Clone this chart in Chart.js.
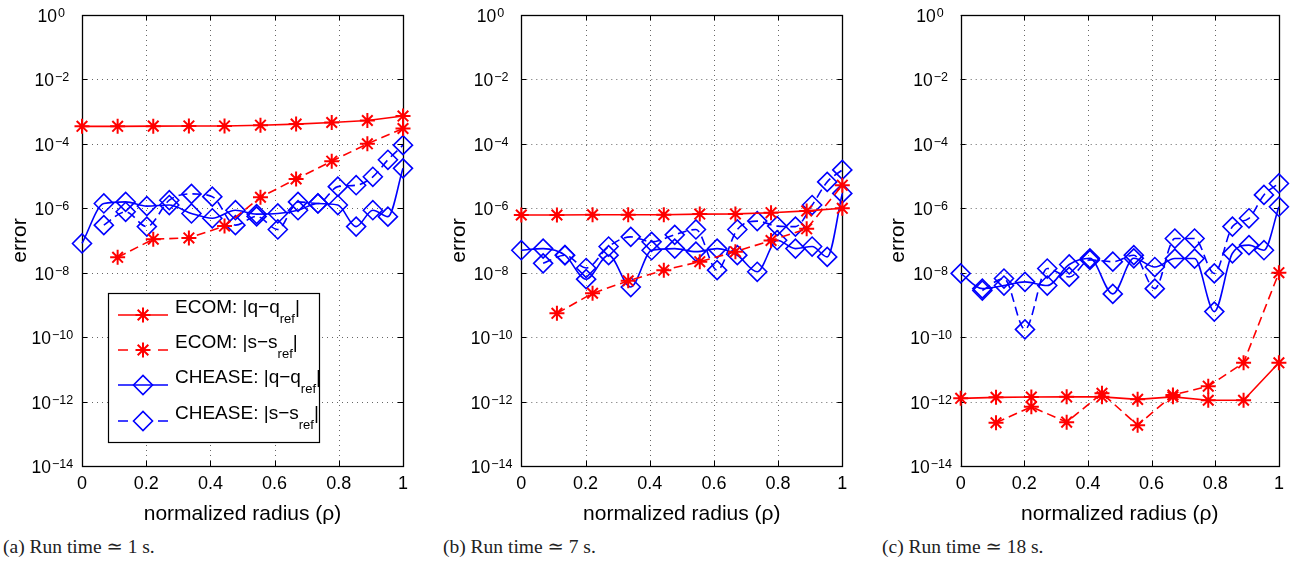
<!DOCTYPE html>
<html>
<head>
<meta charset="utf-8">
<script src="https://cdn.jsdelivr.net/npm/chart.js@4.4.1/dist/chart.umd.min.js"></script>
<style>
  html, body { margin: 0; padding: 0; background: #fff; }
  body { width: 1290px; height: 564px; position: relative; overflow: hidden; }
  .panel { position: absolute; top: 0; width: 430px; height: 530px; }
  .caption { position: absolute; top: 537px; font-family: "Liberation Serif", "DejaVu Serif", serif; font-size: 19.5px; line-height: 20px; color: #222; white-space: nowrap; }
</style>
</head>
<body>
<div class="panel" style="left:0px"><canvas id="panelA"></canvas></div>
<div class="panel" style="left:430px"><canvas id="panelB"></canvas></div>
<div class="panel" style="left:860px"><canvas id="panelC"></canvas></div>
<div class="caption" style="left:3px">(a) Run time ≃ 1 s.</div>
<div class="caption" style="left:443px">(b) Run time ≃ 7 s.</div>
<div class="caption" style="left:882px">(c) Run time ≃ 18 s.</div>

<script>
// ---- data ----
const ecomRho = [0, 0.111, 0.222, 0.333, 0.444, 0.556, 0.667, 0.778, 0.889, 1];
const cheaseRho = [0, 0.068, 0.136, 0.202, 0.272, 0.341, 0.406, 0.478, 0.544, 0.610, 0.673, 0.735, 0.797, 0.854, 0.906, 0.953, 1];

// (a) run time ~ 1 s
const ecomQ_a = [3.5e-4, 3.5e-4, 3.55e-4, 3.6e-4, 3.6e-4, 3.8e-4, 4.1e-4, 4.6e-4, 5.3e-4, 7.3e-4];
const ecomS_a = [null, 3.0e-8, 1.1e-7, 1.2e-7, 2.8e-7, 2.2e-6, 8.1e-6, 2.9e-5, 1.0e-4, 3.0e-4];
const cheaseQ_a = [8.1e-8, 1.41e-6, 1.58e-6, 1.17e-6, 1.26e-6, 6.9e-7, 4.9e-7, 8.7e-7, 6.6e-7, 6.9e-7, 8.7e-7, 1.41e-6, 1.26e-6, 2.7e-7, 8.7e-7, 5.5e-7, 1.74e-5];
const cheaseS_a = [null, 3.0e-7, 7.8e-7, 2.7e-7, 1.78e-6, 2.8e-6, 2.3e-6, 3.0e-7, 5.6e-7, 2.2e-7, 1.58e-6, 1.41e-6, 4.7e-6, 5.2e-6, 9.5e-6, 3.2e-5, 9.1e-5];

// (b) run time ~ 7 s
const ecomQ_b = [6.2e-7, 6.2e-7, 6.3e-7, 6.3e-7, 6.3e-7, 6.6e-7, 6.7e-7, 7.3e-7, 8.3e-7, 1.0e-6];
const ecomS_b = [null, 5.5e-10, 2.3e-9, 5.6e-9, 1.2e-8, 2.2e-8, 4.5e-8, 1.0e-7, 2.3e-7, 5.2e-6];
const cheaseQ_b = [5.0e-8, 5.6e-8, 3.5e-8, 6.3e-9, 3.5e-8, 3.6e-9, 5.0e-8, 5.6e-8, 4.5e-8, 5.6e-8, 3.5e-8, 1.07e-8, 1.02e-7, 5.6e-8, 6.5e-8, 3.1e-8, 2.9e-6];
const cheaseS_b = [null, 1.95e-8, 3.5e-8, 1.4e-8, 6.5e-8, 1.3e-7, 9.1e-8, 1.5e-7, 2.2e-7, 1.2e-8, 2.2e-7, 4.0e-7, 2.8e-7, 2.7e-7, 1.26e-6, 6.6e-6, 1.55e-5];

// (c) run time ~ 18 s
const ecomQ_c = [1.26e-12, 1.35e-12, 1.38e-12, 1.4e-12, 1.4e-12, 1.17e-12, 1.4e-12, 1.1e-12, 1.1e-12, 1.6e-11];
const ecomS_c = [null, 2.2e-13, 6.9e-13, 2.3e-13, 1.8e-12, 1.85e-13, 1.6e-12, 3.0e-12, 1.6e-11, 1.0e-8];
const cheaseQ_c = [9.5e-9, 3.2e-9, 4.0e-9, 5.2e-9, 4.0e-9, 1.8e-8, 2.8e-8, 2.2e-9, 2.8e-8, 1.5e-8, 2.75e-8, 2.75e-8, 6.2e-10, 4.0e-8, 7.2e-8, 5.0e-8, 1.12e-6];
const cheaseS_c = [null, 2.8e-9, 6.6e-9, 1.74e-10, 1.35e-8, 7.4e-9, 2.5e-8, 2.2e-8, 3.5e-8, 3.2e-9, 1.15e-7, 1.15e-7, 9.5e-9, 2.7e-7, 4.9e-7, 2.6e-6, 5.9e-6];

const seriesLabels = ['ECOM: |q\u2212q_ref|', 'ECOM: |s\u2212s_ref|', 'CHEASE: |q\u2212q_ref|', 'CHEASE: |s\u2212s_ref|'];

// ticks
const xTickValues = [0, 0.2, 0.4, 0.6, 0.8, 1];
const xTickLabels = ['0', '0.2', '0.4', '0.6', '0.8', '1'];
const yTickValues = [1, 1e-2, 1e-4, 1e-6, 1e-8, 1e-10, 1e-12, 1e-14];
const yTickExps = ['0', '\u22122', '\u22124', '\u22126', '\u22128', '\u221210', '\u221212', '\u221214'];

const FONT = '"Liberation Sans", Arial, Helvetica, sans-serif';
const RED = '#ff0000';
const BLUE = '#0000ff';
const CANVAS_H = 530;
const PLOT_TOP = 15;
const PLOT_BOTTOM = 466;

function toPoints(xs, ys) {
  return xs.map((x, i) => ({ x: x, y: ys[i] }));
}

function makeDatasets(eq, es, cq, cs) {
  const ecomBase = { borderColor: RED, pointBorderColor: RED, pointBackgroundColor: 'rgba(0,0,0,0)',
    pointStyle: 'star', pointRadius: 7.5, pointBorderWidth: 2, borderWidth: 1.6, tension: 0 };
  const cheaseBase = { borderColor: BLUE, pointBorderColor: BLUE, pointBackgroundColor: 'rgba(0,0,0,0)',
    pointStyle: 'rectRot', pointRadius: 9.5, pointBorderWidth: 1.6, borderWidth: 1.6, cubicInterpolationMode: 'monotone' };
  return [
    { ...ecomBase, label: seriesLabels[0], data: toPoints(ecomRho, eq) },
    { ...ecomBase, label: seriesLabels[1], data: toPoints(ecomRho, es), borderDash: [9, 5] },
    { ...cheaseBase, label: seriesLabels[2], data: toPoints(cheaseRho, cq) },
    { ...cheaseBase, label: seriesLabels[3], data: toPoints(cheaseRho, cs), borderDash: [9, 5] }
  ];
}

// dotted grid, box, inner tick marks and tick labels (MATLAB look)
const axesPlugin = {
  id: 'matlabAxes',
  beforeDatasetsDraw(chart) {
    const { ctx, chartArea: a, scales: { x, y } } = chart;
    ctx.save();
    ctx.strokeStyle = 'rgba(0,0,0,0.6)';
    ctx.lineWidth = 1;
    ctx.setLineDash([1, 4]);
    xTickValues.forEach(v => {
      const px = Math.round(x.getPixelForValue(v)) + 0.5;
      if (px <= a.left + 1 || px >= a.right - 1) return;
      ctx.beginPath(); ctx.moveTo(px, a.top); ctx.lineTo(px, a.bottom); ctx.stroke();
    });
    yTickValues.forEach(v => {
      const py = Math.round(y.getPixelForValue(v)) + 0.5;
      if (py <= a.top + 1 || py >= a.bottom - 1) return;
      ctx.beginPath(); ctx.moveTo(a.left, py); ctx.lineTo(a.right, py); ctx.stroke();
    });
    ctx.setLineDash([]);
    ctx.strokeStyle = '#000';
    // tick marks inside the box
    const tl = 5;
    xTickValues.forEach(v => {
      const px = Math.round(x.getPixelForValue(v)) + 0.5;
      ctx.beginPath();
      ctx.moveTo(px, a.bottom); ctx.lineTo(px, a.bottom - tl);
      ctx.moveTo(px, a.top); ctx.lineTo(px, a.top + tl);
      ctx.stroke();
    });
    yTickValues.forEach(v => {
      const py = Math.round(y.getPixelForValue(v)) + 0.5;
      ctx.beginPath();
      ctx.moveTo(a.left, py); ctx.lineTo(a.left + tl, py);
      ctx.moveTo(a.right, py); ctx.lineTo(a.right - tl, py);
      ctx.stroke();
    });
    ctx.lineWidth = 1.3;
    ctx.strokeRect(Math.round(a.left) + 0.5, Math.round(a.top) + 0.5, Math.round(a.right - a.left), Math.round(a.bottom - a.top));

    ctx.fillStyle = '#000';
    ctx.textBaseline = 'alphabetic';
    // x tick labels
    ctx.font = '18px ' + FONT;
    ctx.textAlign = 'center';
    xTickValues.forEach((v, i) => {
      ctx.fillText(xTickLabels[i], x.getPixelForValue(v), a.bottom + 23);
    });
    // y tick labels 10^n
    ctx.textAlign = 'left';
    yTickValues.forEach((v, i) => {
      const py = y.getPixelForValue(v);
      const exp = yTickExps[i];
      ctx.font = '17.5px ' + FONT;
      const baseW = ctx.measureText('10').width;
      const baseRight = a.left - 25 - 3 * (exp.length - 1);
      ctx.fillText('10', baseRight - baseW, py + 7);
      ctx.font = '12.5px ' + FONT;
      ctx.fillText(exp, baseRight + 1, py + 2);
    });
    ctx.restore();
  }
};

// legend with subscripts, only drawn on panel (a)
const legendPlugin = {
  id: 'subLegend',
  afterDatasetsDraw(chart, args, opts) {
    if (!opts.show) return;
    const { ctx } = chart;
    const box = opts.box;
    ctx.save();
    ctx.fillStyle = '#fff';
    ctx.fillRect(box.left, box.top, box.right - box.left, box.bottom - box.top);
    ctx.strokeStyle = '#000';
    ctx.lineWidth = 1.2;
    ctx.strokeRect(box.left + 0.5, box.top + 0.5, box.right - box.left, box.bottom - box.top);

    chart.data.datasets.forEach((ds, i) => {
      const ly = opts.rows[i];
      const x0 = box.left + 10, x1 = box.left + 60, xm = (x0 + x1) / 2;
      ctx.strokeStyle = ds.borderColor;
      ctx.lineWidth = ds.borderWidth;
      ctx.setLineDash(ds.borderDash ? [10, 30] : []);
      ctx.beginPath(); ctx.moveTo(x0, ly); ctx.lineTo(x1, ly); ctx.stroke();
      ctx.setLineDash([]);
      ctx.fillStyle = 'rgba(0,0,0,0)';
      ctx.lineWidth = ds.pointBorderWidth;
      Chart.helpers.drawPoint(ctx, { pointStyle: ds.pointStyle, radius: ds.pointRadius, borderWidth: ds.pointBorderWidth, rotation: 0 }, xm, ly);

      // text: main part, subscript "ref", closing bar
      const parts = ds.label.split('_ref');
      let tx = box.left + 67;
      ctx.fillStyle = '#000';
      ctx.textAlign = 'left';
      ctx.font = '19px ' + FONT;
      ctx.fillText(parts[0], tx, ly - 2);
      tx += ctx.measureText(parts[0]).width;
      ctx.font = '13px ' + FONT;
      ctx.fillText('ref', tx, ly + 8);
      tx += ctx.measureText('ref').width;
      ctx.font = '19px ' + FONT;
      ctx.fillText(parts[1], tx, ly - 2);
    });
    ctx.restore();
  }
};

function makePanel(canvasId, plotLeft, plotRight, datasets, showLegend) {
  const ctx = document.getElementById(canvasId).getContext('2d');
  return new Chart(ctx, {
    type: 'line',
    data: { datasets: datasets },
    options: {
      responsive: true,
      maintainAspectRatio: false,
      animation: false,
      layout: { padding: { left: 0, top: PLOT_TOP, right: 430 - plotRight, bottom: 0 } },
      datasets: { line: { clip: false, spanGaps: true } },
      scales: {
        x: {
          type: 'linear',
          min: 0,
          max: 1,
          grid: { display: false },
          border: { display: false },
          afterBuildTicks: (scale) => { scale.ticks = xTickValues.map(v => ({ value: v })); },
          afterFit: (scale) => { scale.height = CANVAS_H - PLOT_BOTTOM; },
          ticks: { display: false },
          title: {
            display: true, text: 'normalized radius (\u03c1)', color: '#000',
            font: { family: FONT, size: 21 },
            padding: { top: 0, bottom: 3 }
          }
        },
        y: {
          type: 'logarithmic',
          min: 1e-14,
          max: 1,
          grid: { display: false },
          border: { display: false },
          afterBuildTicks: (scale) => { scale.ticks = yTickValues.map(v => ({ value: v })); },
          afterFit: (scale) => { scale.width = plotLeft; },
          ticks: { display: false },
          title: {
            display: true, text: 'error', color: '#000',
            font: { family: FONT, size: 21 },
            padding: { top: plotLeft - 62 - 12.6, bottom: 0 }
          }
        }
      },
      plugins: {
        legend: { display: false },
        tooltip: { enabled: false },
        subLegend: {
          show: showLegend,
          box: { left: 108, top: 293, right: 319, bottom: 442 },
          rows: [315, 350, 385, 421]
        }
      }
    },
    plugins: [axesPlugin, legendPlugin]
  });
}

makePanel('panelA', 82, 403, makeDatasets(ecomQ_a, ecomS_a, cheaseQ_a, cheaseS_a), true);
makePanel('panelB', 91.3, 412.3, makeDatasets(ecomQ_b, ecomS_b, cheaseQ_b, cheaseS_b), false);
makePanel('panelC', 100.7, 421, makeDatasets(ecomQ_c, ecomS_c, cheaseQ_c, cheaseS_c), false);
</script>
</body>
</html>
